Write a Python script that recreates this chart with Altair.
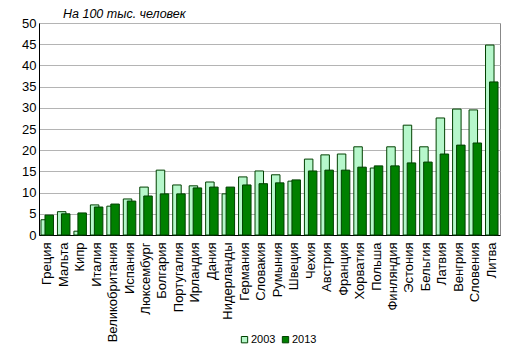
import altair as alt
import pandas as pd

countries = ["Греция", "Мальта", "Кипр", "Италия", "Великобритания", "Испания",
             "Люксембург", "Болгария", "Португалия", "Ирландия", "Дания",
             "Нидерланды", "Германия", "Словакия", "Румыния", "Швеция", "Чехия",
             "Австрия", "Франция", "Хорватия", "Польша", "Финляндия", "Эстония",
             "Бельгия", "Латвия", "Венгрия", "Словения", "Литва"]
v2003 = [3.6, 5.5, 0.9, 7.1, 6.8, 8.5, 11.3, 15.3, 11.8, 11.6, 12.5, 9.7, 13.7,
         15.1, 14.2, 12.7, 17.9, 18.9, 19.1, 20.8, 15.8, 20.8, 25.9, 20.8, 27.6,
         29.7, 29.5, 44.8]
v2013 = [4.7, 5.0, 5.2, 6.6, 7.3, 8.0, 9.2, 9.7, 9.7, 11.1, 11.3, 11.3, 11.8,
         12.1, 12.3, 13.0, 15.1, 15.3, 15.3, 16.0, 16.3, 16.3, 17.0, 17.2, 19.1,
         21.2, 21.7, 36.1]
years = ["2003", "2013"]
subtitle = ["На 100 тыс. человек"]

rows = []
for c, a, b in zip(countries, v2003, v2013):
    rows.append({"country": c, "year": years[0], "value": a})
    rows.append({"country": c, "year": years[1], "value": b})
df = pd.DataFrame(rows)

color = alt.Color(
    "year:N",
    scale=alt.Scale(domain=years, range=["#b6f7cb", "#008000"]),
    legend=alt.Legend(
        title=None, orient="none", legendX=200, legendY=311, direction="horizontal",
        symbolType="square", symbolSize=40, symbolStrokeColor="#004000",
        symbolStrokeWidth=1, labelFont="Liberation Sans", labelFontSize=11,
        labelColor="#000000", columnPadding=4, labelOffset=1,
    ),
)

x = alt.X(
    "country:N", sort=countries, title=None,
    axis=alt.Axis(labelAngle=-90, labelFont="Liberation Sans", labelFontSize=13,
                  labelColor="#000000", ticks=False, labelPadding=7,
                  domainColor="#000000", domainWidth=1, grid=False),
)
y = alt.Y(
    "value:Q", title=None,
    scale=alt.Scale(domain=[0, 50], nice=False),
    axis=alt.Axis(values=list(range(0, 51, 5)), labelFont="Liberation Sans",
                  labelFontSize=13, labelColor="#000000", ticks=False,
                  labelPadding=3, domainColor="#000000", gridColor="#b4b4b4",
                  gridWidth=1),
)

base = alt.Chart(df)
light = base.transform_filter(alt.datum.year == "2003").mark_bar(
    width=8.5, xOffset=-2, stroke="#004000", strokeWidth=1
).encode(x=x, y=y, color=color)
dark = base.transform_filter(alt.datum.year == "2013").mark_bar(
    width=8.5, xOffset=2, stroke="#004000", strokeWidth=1
).encode(x=x, y=y, color=color)

title = alt.Chart(pd.DataFrame({"t": subtitle})).mark_text(
    align="left", baseline="middle", font="Liberation Sans", fontSize=12.5,
    fontStyle="italic", color="#000000"
).encode(text="t:N", x=alt.value(24), y=alt.value(-9))

chart = alt.layer(light, dark, title).properties(
    width=461, height=212,
    padding={"left": 39, "top": 23, "right": 16, "bottom": 121},
    autosize=alt.AutoSizeParams(type="none"),
).configure_view(stroke="#888888", strokeWidth=1)

chart.save("out.html", embed_options={"renderer": "svg", "actions": False})
